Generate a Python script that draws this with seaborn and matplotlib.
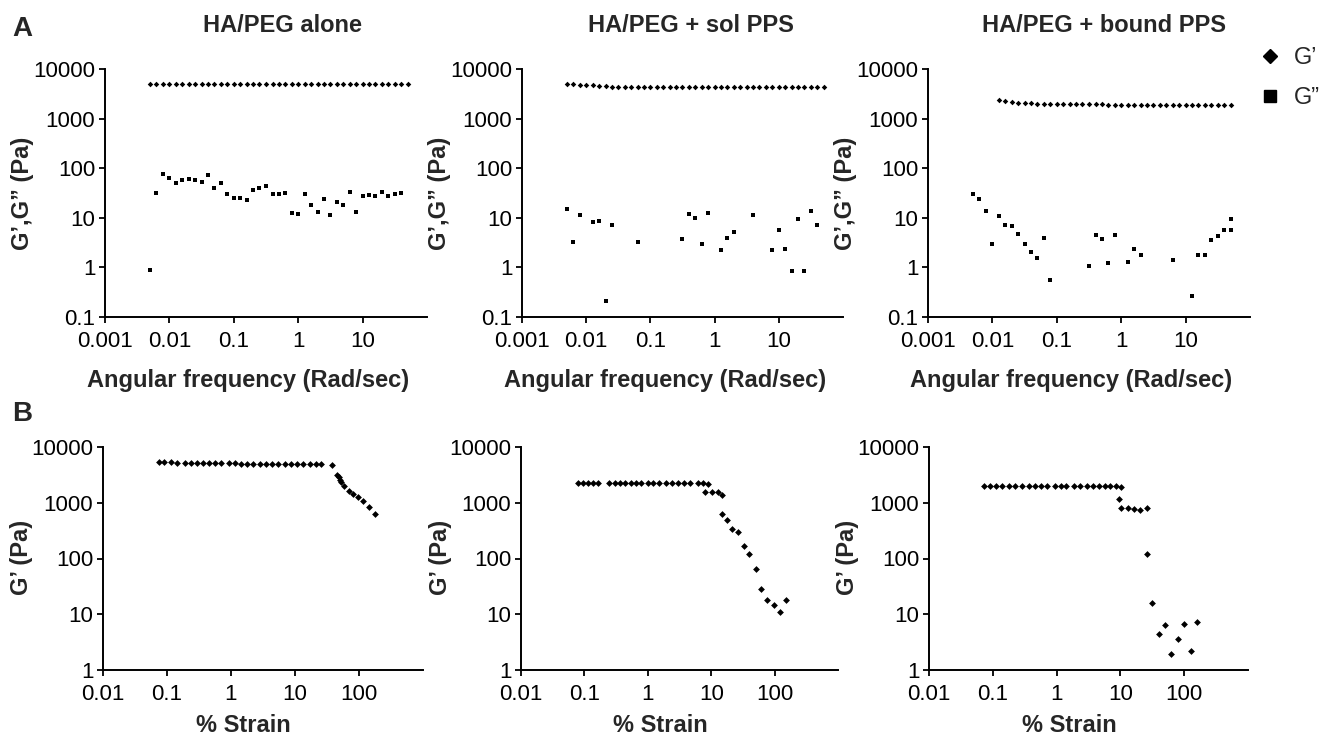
import matplotlib
matplotlib.use("Agg")
import matplotlib.pyplot as plt
import seaborn as sns
import pandas as pd
from matplotlib.lines import Line2D
from matplotlib.ticker import NullLocator

sns.set_theme(style="ticks")
plt.rcParams["font.family"] = ["Liberation Sans", "DejaVu Sans"]

# ---------------- data: frequency sweeps (row A) ----------------
freq = [0.005, 0.0063, 0.0079, 0.01, 0.0126, 0.0158, 0.02, 0.025, 0.0316, 0.04,
        0.05, 0.063, 0.079, 0.1, 0.126, 0.158, 0.2, 0.25, 0.316, 0.4,
        0.5, 0.63, 0.79, 1.0, 1.26, 1.58, 2.0, 2.5, 3.16, 4.0,
        5.0, 6.3, 7.9, 10.0, 12.6, 15.8, 20.0, 25.0, 31.6, 40.0, 50.0]

alone_Gp = [5100, 5100, 5050, 5050, 5050, 5000, 5000, 5000, 5000, 5000,
            5000, 5000, 5000, 5000, 5000, 5000, 5000, 5000, 5000, 5000,
            5000, 5000, 5000, 5000, 5000, 5000, 5000, 5000, 5000, 5000,
            5000, 5000, 5000, 5000, 5000, 5000, 5000, 5000, 5000, 5000, 5000]
alone_Gpp_x = freq[:40]
alone_Gpp = [0.9, 31, 75, 64, 50, 58, 61, 58, 52, 74,
             40, 50, 30, 25, 25, 23, 37, 39, 43, 30,
             30, 31, 12.7, 12.1, 30, 18, 13.3, 24, 11.4, 20.5,
             18, 33, 12.9, 28, 29, 27, 33, 27, 30, 31]

sol_Gp = [4900, 4900, 4850, 4800, 4650, 4550, 4450, 4400, 4400, 4400,
          4400, 4400, 4400, 4400, 4400, 4400, 4400, 4400, 4400, 4400,
          4400, 4400, 4400, 4400, 4400, 4400, 4400, 4400, 4400, 4400,
          4400, 4400, 4400, 4400, 4400, 4400, 4400, 4400, 4400, 4400, 4400]
sol_Gpp_x = [0.005, 0.0063, 0.0079, 0.0126, 0.0158, 0.02, 0.025, 0.063, 0.316, 0.4,
             0.5, 0.63, 0.79, 1.26, 1.58, 2.0, 4.0, 7.9, 10.0, 12.6,
             15.8, 20.0, 25.0, 31.6, 40.0]
sol_Gpp = [15, 3.3, 11.2, 8.1, 8.5, 0.21, 7.1, 3.3, 3.7, 12.1,
           10, 3.0, 12.5, 2.2, 4.0, 5.2, 11.2, 2.2, 5.7, 2.3,
           0.83, 9.6, 0.83, 13.5, 7.3]

bound_Gp_x = freq[4:]
bound_Gp = [2400, 2250, 2150, 2100, 2050, 2020, 2000, 1990, 1980, 1970,
            1960, 1950, 1950, 1940, 1940, 1930, 1930, 1920, 1920, 1920,
            1910, 1910, 1910, 1900, 1900, 1900, 1900, 1900, 1900, 1900,
            1900, 1900, 1900, 1900, 1900, 1900, 1900]
bound_Gpp_x = [0.005, 0.0063, 0.0079, 0.01, 0.0126, 0.0158, 0.02, 0.025, 0.0316, 0.04,
               0.05, 0.063, 0.079, 0.316, 0.4, 0.5, 0.63, 0.79, 1.26, 1.58,
               2.0, 6.3, 12.6, 15.8, 20.0, 25.0, 31.6, 40.0, 50.0, 50.0]
bound_Gpp = [30.6, 24, 13.5, 3.0, 10.9, 7.3, 6.7, 4.7, 3.0, 2.0,
             1.52, 3.9, 0.56, 1.08, 4.4, 3.7, 1.2, 4.6, 1.29, 2.3,
             1.75, 1.43, 0.27, 1.75, 1.75, 3.5, 4.2, 5.7, 5.7, 9.6]

# ---------------- data: strain sweeps (row B) ----------------
alone_strain = [0.074, 0.091, 0.115, 0.143, 0.193, 0.239, 0.294, 0.366, 0.458, 0.569,
                0.708, 0.92, 1.14, 1.44, 1.79, 2.22, 2.79, 3.46, 4.4, 5.47,
                6.87, 8.53, 10.9, 13.5, 16.9, 21, 25.2,
                37.5, 45.7, 48.7, 50.5, 53.2, 58, 70, 82, 98, 117, 143, 178]
alone_Gs = [5300, 5300, 5300, 5250, 5250, 5200, 5200, 5200, 5150, 5150,
            5100, 5100, 5100, 5050, 5050, 5000, 5000, 5000, 4950, 4950,
            4950, 4900, 4900, 4900, 4900, 4900, 4900,
            4700, 3200, 2900, 2600, 2350, 2000, 1630, 1450, 1280, 1080, 830, 635]

sol_strain = [0.0786, 0.094, 0.113, 0.135, 0.161, 0.246, 0.302, 0.362, 0.438, 0.538,
              0.644, 0.78, 1.01, 1.22, 1.49, 1.94, 2.41, 2.99, 3.67, 4.67,
              6.3, 7.55, 9.04,
              8.0, 10.2, 13.0, 15.0, 14.6, 17.9, 21.5, 26.7, 32.7, 40,
              50, 62, 77, 97.5, 122, 154]
sol_Gs = [2300, 2300, 2300, 2300, 2300, 2300, 2300, 2300, 2300, 2300,
          2300, 2300, 2300, 2300, 2300, 2300, 2300, 2300, 2300, 2300,
          2300, 2250, 2200,
          1550, 1550, 1550, 1360, 640, 485, 345, 300, 166, 120,
          66, 28.5, 17.7, 14.7, 11, 17.7]

bound_strain = [0.073, 0.091, 0.113, 0.141, 0.18, 0.226, 0.284, 0.374, 0.459, 0.57,
                0.708, 0.944, 1.16, 1.4, 1.89, 2.32, 2.96, 3.67, 4.56, 5.66,
                6.85, 8.4, 10.4,
                9.6, 10.4, 13.0, 16.3, 20.4, 25.7, 25.7, 31.5, 39.6, 49.7,
                62, 79, 100, 126, 159]
bound_Gs = [2000, 2000, 2000, 2000, 2000, 2000, 2000, 2000, 2000, 2000,
            2000, 2000, 2000, 2000, 2000, 2000, 2000, 2000, 2000, 2000,
            2000, 1980, 1900,
            1190, 810, 810, 785, 755, 790, 119, 16.2, 4.4, 6.3,
            1.9, 3.6, 6.8, 2.2, 7.2]

titles = ["HA/PEG alone", "HA/PEG + sol PPS", "HA/PEG + bound PPS"]
freq_ticks = [0.001, 0.01, 0.1, 1, 10]
freq_ticklabels = ["0.001", "0.01", "0.1", "1", "10"]
mod_ticks = [0.1, 1, 10, 100, 1000, 10000]
mod_ticklabels = ["0.1", "1", "10", "100", "1000", "10000"]
strain_ticks = [0.01, 0.1, 1, 10, 100]
strain_ticklabels = ["0.01", "0.1", "1", "10", "100"]
gs_ticks = [1, 10, 100, 1000, 10000]
gs_ticklabels = ["1", "10", "100", "1000", "10000"]

# ---------------- figure ----------------
W, H = 1320, 737
fig = plt.figure(figsize=(W / 100, H / 100), dpi=100)
fig.patch.set_facecolor("white")


def px_axes(x0, y0, x1, y1):
    return fig.add_axes([x0 / W, 1 - y1 / H, (x1 - x0) / W, (y1 - y0) / H])


top_boxes = [(105, 69, 427, 317), (522, 69, 843, 317), (928, 69, 1250, 317)]
bot_boxes = [(103, 447, 423, 670), (521, 447, 838, 670), (929, 447, 1248, 670)]
title_x = [0.55, 0.526, 0.547]

TICK_FS = 16
LAB_FS = 17


def style_axis(ax, xt, xtl, yt, ytl, xlim, ylim):
    ax.set_xscale("log")
    ax.set_yscale("log")
    ax.set_xlim(*xlim)
    ax.set_ylim(*ylim)
    ax.set_xticks(xt)
    ax.set_xticklabels(xtl)
    ax.set_yticks(yt)
    ax.set_yticklabels(ytl)
    ax.xaxis.set_minor_locator(NullLocator())
    ax.yaxis.set_minor_locator(NullLocator())
    sns.despine(ax=ax)
    for s in ("left", "bottom"):
        ax.spines[s].set_linewidth(1.4)
        ax.spines[s].set_color("black")
    ax.tick_params(axis="both", which="major", direction="out", length=4,
                   width=1.3, color="black", labelsize=TICK_FS, labelcolor="black")
    ax.tick_params(axis="x", pad=6)
    ax.tick_params(axis="y", pad=3)
    ax.set_facecolor("white")
    ax.grid(False)


top_data = [
    (freq, alone_Gp, alone_Gpp_x, alone_Gpp),
    (freq, sol_Gp, sol_Gpp_x, sol_Gpp),
    (bound_Gp_x, bound_Gp, bound_Gpp_x, bound_Gpp),
]

for i, (box, (gx, gy, ppx, ppy)) in enumerate(zip(top_boxes, top_data)):
    ax = px_axes(*box)
    dfp = pd.DataFrame({"w": gx, "G": gy})
    dfpp = pd.DataFrame({"w": ppx, "G": ppy})
    sns.scatterplot(data=dfp, x="w", y="G", marker="D", s=8, color="black",
                    linewidth=0, ax=ax, zorder=3, clip_on=False)
    sns.scatterplot(data=dfpp, x="w", y="G", marker="s", s=11, color="black",
                    linewidth=0, ax=ax, zorder=3, clip_on=False)
    style_axis(ax, freq_ticks, freq_ticklabels, mod_ticks, mod_ticklabels,
               (0.001, 100), (0.1, 10000))
    ax.set_xlabel("Angular frequency (Rad/sec)", fontsize=LAB_FS, fontweight="bold")
    ax.set_ylabel("G\u2019,G\u201d (Pa)", fontsize=LAB_FS, fontweight="bold")
    ax.xaxis.set_label_coords(0.445, -0.21)
    ax.yaxis.set_label_coords(-0.222, 0.5)
    ax.text(title_x[i], 1.177, titles[i], transform=ax.transAxes, ha="center",
            va="center", fontsize=LAB_FS, fontweight="bold")

bot_data = [(alone_strain, alone_Gs), (sol_strain, sol_Gs), (bound_strain, bound_Gs)]
for box, (sx, sy) in zip(bot_boxes, bot_data):
    ax = px_axes(*box)
    df = pd.DataFrame({"strain": sx, "G": sy})
    sns.scatterplot(data=df, x="strain", y="G", marker="D", s=12, color="black",
                    linewidth=0, ax=ax, zorder=3, clip_on=False)
    style_axis(ax, strain_ticks, strain_ticklabels, gs_ticks, gs_ticklabels,
               (0.01, 1000), (1, 10000))
    ax.set_xlabel("% Strain", fontsize=LAB_FS, fontweight="bold")
    ax.set_ylabel("G\u2019 (Pa)", fontsize=LAB_FS, fontweight="bold")
    ax.xaxis.set_label_coords(0.44, -0.197)
    ax.yaxis.set_label_coords(-0.218, 0.507)

# panel letters
fig.text(22 / W, 1 - 29 / H, "A", fontsize=20, fontweight="bold", ha="center", va="center")
fig.text(22 / W, 1 - 414 / H, "B", fontsize=20, fontweight="bold", ha="center", va="center")

# legend
handles = [Line2D([], [], marker="D", color="black", linestyle="none", markersize=7.5),
           Line2D([], [], marker="s", color="black", linestyle="none", markersize=8.5)]
fig.legend(handles, ["G\u2019", "G\u201d"], loc="center left",
           bbox_to_anchor=(1258 / W, 1 - 78 / H), frameon=False, fontsize=LAB_FS,
           handlelength=1.0, handletextpad=0.5, labelspacing=0.75, borderpad=0,
           borderaxespad=0)

fig.savefig("out.png", dpi=100, facecolor="white")
